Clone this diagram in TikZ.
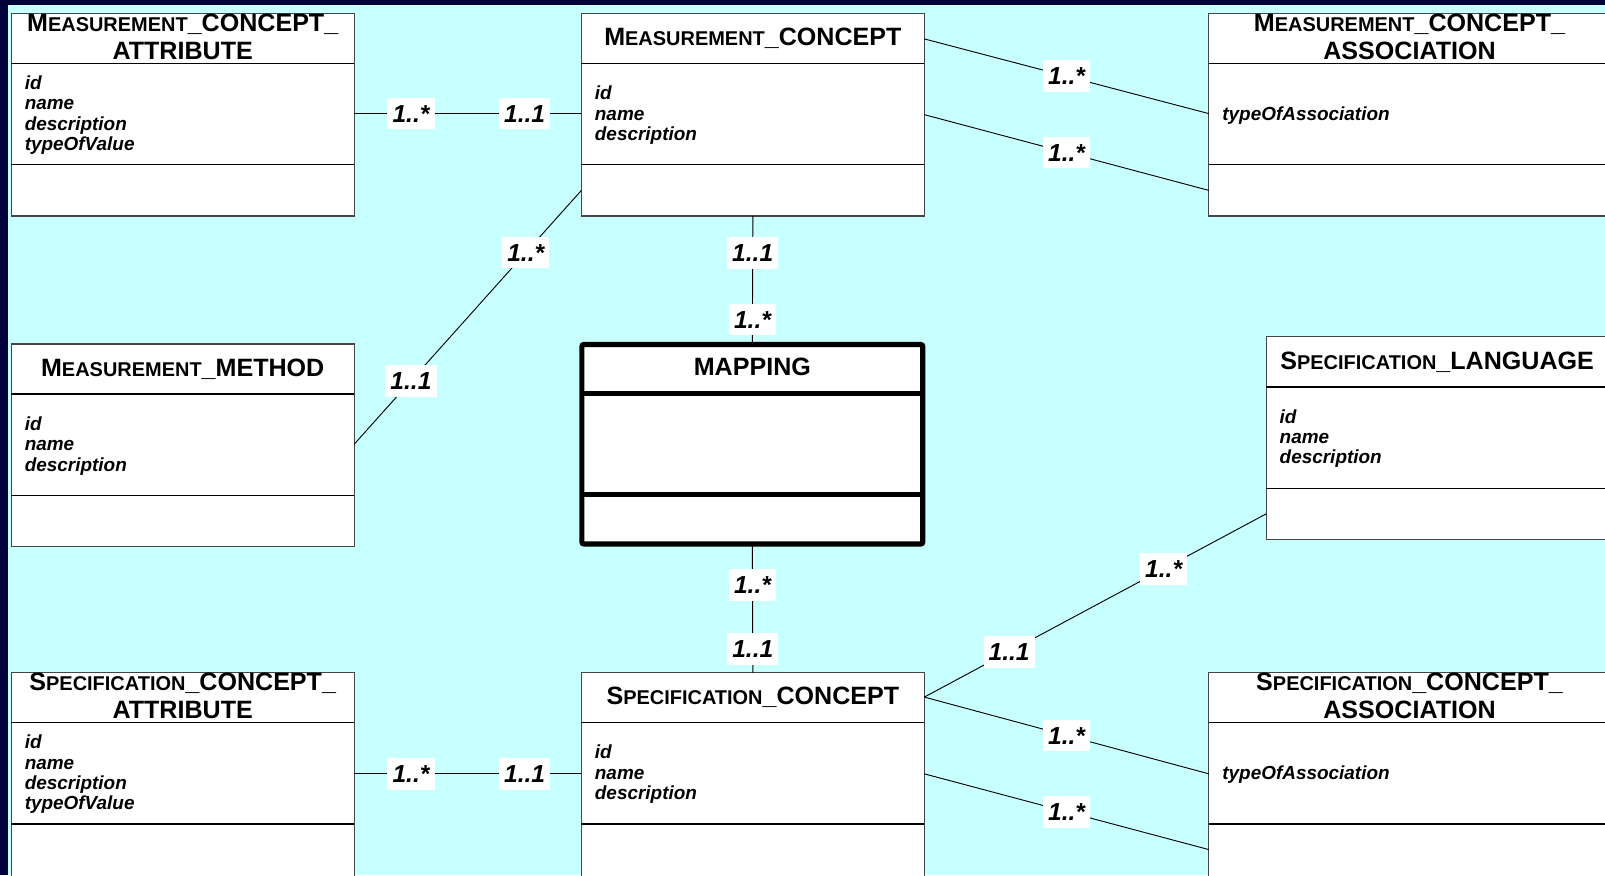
\documentclass[tikz,border=0pt]{standalone}
\usepackage{fontspec}
\setmainfont{Liberation Sans}

\definecolor{bgcyan}{RGB}{200,255,255}
\definecolor{navyband}{RGB}{0,0,58}
\definecolor{framegray}{RGB}{70,70,70}

% small-caps style word: first letter full size, rest reduced capitals
\newcommand\smc[2]{#1{\fontsize{19.5}{19.5}\selectfont #2}}

\tikzset{
  cls/.style={draw=framegray, line width=1.1pt, fill=white, anchor=north west,
    inner sep=0pt, outer sep=0pt, minimum height=198pt},
  mapcls/.style={draw=black, line width=5pt, fill=white, anchor=north west,
    inner sep=0pt, outer sep=0pt, rounded corners=2pt},
  sepline/.style={draw=black, line width=1.2pt},
  heavysep/.style={draw=black, line width=5pt},
  hdr/.style={font=\bfseries\fontsize{24.5}{27}\selectfont, align=center, inner sep=0pt},
  attr/.style={font=\bfseries\itshape\fontsize{18.5}{20}\selectfont, align=left,
    inner sep=0pt, anchor=west},
  mult/.style={fill=white, font=\bfseries\itshape\fontsize{24}{24}\selectfont,
    inner xsep=5pt, inner ysep=0pt, minimum height=31pt, text height=17pt, text depth=0pt},
  link/.style={draw=black, line width=0.9pt},
}

% the two horizontal separators of a class box
\newcommand\compartments[1]{%
  \draw[sepline] ([yshift=-49pt]#1.north west) -- ([yshift=-49pt]#1.north east);
  \draw[sepline] ([yshift=-148pt]#1.north west) -- ([yshift=-148pt]#1.north east);}

\begin{document}
\begin{tikzpicture}[x=1pt,y=-1pt]
\useasboundingbox (0,0) rectangle (1568,855);
\clip (0,0) rectangle (1568,855);

% slide background
\fill[bgcyan] (0,0) rectangle (1568,855);
\fill[navyband] (0,0) rectangle (1568,5);
\fill[navyband] (0,0) rectangle (8,855);

% ---- class boxes ----
\node[cls, minimum width=335pt] (mca) at (11,13) {};
\compartments{mca}
\node[hdr] (mca-t) at ([yshift=-23pt]mca.north) {\smc{M}{EASUREMENT}\_CONCEPT\_\\ATTRIBUTE};
\node[attr] (mca-a) at ([xshift=13pt,yshift=-99.5pt]mca.north west) {id\\name\\description\\typeOfValue};

\node[cls, minimum width=335pt] (mc) at (568,13) {};
\compartments{mc}
\node[hdr] (mc-t) at ([yshift=-24.5pt]mc.north) {\smc{M}{EASUREMENT}\_CONCEPT};
\node[attr] (mc-a) at ([xshift=13pt,yshift=-99.5pt]mc.north west) {id\\name\\description};

\node[cls, minimum width=392pt] (mcas) at (1181,13) {};
\compartments{mcas}
\node[hdr] (mcas-t) at ([yshift=-23pt]mcas.north) {\smc{M}{EASUREMENT}\_CONCEPT\_\\ASSOCIATION};
\node[attr] (mcas-a) at ([xshift=13pt,yshift=-99.5pt]mcas.north west) {typeOfAssociation};

\node[cls, minimum width=335pt] (mm) at (11,336) {};
\compartments{mm}
\node[hdr] (mm-t) at ([yshift=-24.5pt]mm.north) {\smc{M}{EASUREMENT}\_METHOD};
\node[attr] (mm-a) at ([xshift=13pt,yshift=-99.5pt]mm.north west) {id\\name\\description};

\node[mapcls, minimum width=333pt, minimum height=195pt] (map) at (568.5,336.5) {};
\draw[heavysep] ([yshift=-47.5pt]map.north west) -- ([yshift=-47.5pt]map.north east);
\draw[heavysep] ([yshift=-147pt]map.north west) -- ([yshift=-147pt]map.north east);
\node[hdr] (map-t) at ([yshift=-21.5pt]map.north) {MAPPING};

\node[cls, minimum width=334pt] (sl) at (1237,329) {};
\compartments{sl}
\node[hdr] (sl-t) at ([yshift=-24.5pt]sl.north) {\smc{S}{PECIFICATION}\_LANGUAGE};
\node[attr] (sl-a) at ([xshift=13pt,yshift=-99.5pt]sl.north west) {id\\name\\description};

\node[cls, minimum width=335pt, minimum height=205pt] (sca) at (11,657) {};
\compartments{sca}
\node[hdr] (sca-t) at ([yshift=-23pt]sca.north) {\smc{S}{PECIFICATION}\_CONCEPT\_\\ATTRIBUTE};
\node[attr] (sca-a) at ([xshift=13pt,yshift=-99.5pt]sca.north west) {id\\name\\description\\typeOfValue};

\node[cls, minimum width=335pt, minimum height=205pt] (sc) at (568,657) {};
\compartments{sc}
\node[hdr] (sc-t) at ([yshift=-24.5pt]sc.north) {\smc{S}{PECIFICATION}\_CONCEPT};
\node[attr] (sc-a) at ([xshift=13pt,yshift=-99.5pt]sc.north west) {id\\name\\description};

\node[cls, minimum width=392pt, minimum height=205pt] (scas) at (1181,657) {};
\compartments{scas}
\node[hdr] (scas-t) at ([yshift=-23pt]scas.north) {\smc{S}{PECIFICATION}\_CONCEPT\_\\ASSOCIATION};
\node[attr] (scas-a) at ([xshift=13pt,yshift=-99.5pt]scas.north west) {typeOfAssociation};

% ---- associations with multiplicities ----
\draw[link] ([yshift=-98pt]mca.north east) --
  node[mult,pos=.25] (l1a) {1..*} node[mult,pos=.75] (l1b) {1..1}
  ([yshift=-98pt]mc.north west);

\draw[link] ([yshift=-25pt]mc.north east) --
  node[mult,pos=.5] (l2) {1..*} ([yshift=-98pt]mcas.north west);
\draw[link] ([yshift=-99pt]mc.north east) --
  node[mult,pos=.5] (l3) {1..*} ([yshift=-173pt]mcas.north west);

\draw[link] ([yshift=-173pt]mc.north west) --
  node[mult,pos=.245] (l4a) {1..*} node[mult,pos=.75] (l4b) {1..1}
  ([yshift=-98pt]mm.north east);

\draw[link] (mc.south) --
  node[mult,pos=.287] (l5a) {1..1} node[mult,pos=.805] (l5b) {1..*} (map.north);

\draw[link] (map.south) --
  node[mult,pos=.32] (l6a) {1..*} node[mult,pos=.817] (l6b) {1..1} (sc.north);

\draw[link] ([yshift=-24pt]sc.north east) --
  node[mult,pos=.248] (l7a) {1..1} node[mult,pos=.70] (l7b) {1..*}
  ([yshift=-173pt]sl.north west);

\draw[link] ([yshift=-24pt]sc.north east) --
  node[mult,pos=.5] (l8) {1..*} ([yshift=-99pt]scas.north west);
\draw[link] ([yshift=-99pt]sc.north east) --
  node[mult,pos=.5] (l9) {1..*} ([yshift=-173pt]scas.north west);

\draw[link] ([yshift=-99pt]sca.north east) --
  node[mult,pos=.25] (l10a) {1..*} node[mult,pos=.75] (l10b) {1..1}
  ([yshift=-99pt]sc.north west);
\end{tikzpicture}
\end{document}
